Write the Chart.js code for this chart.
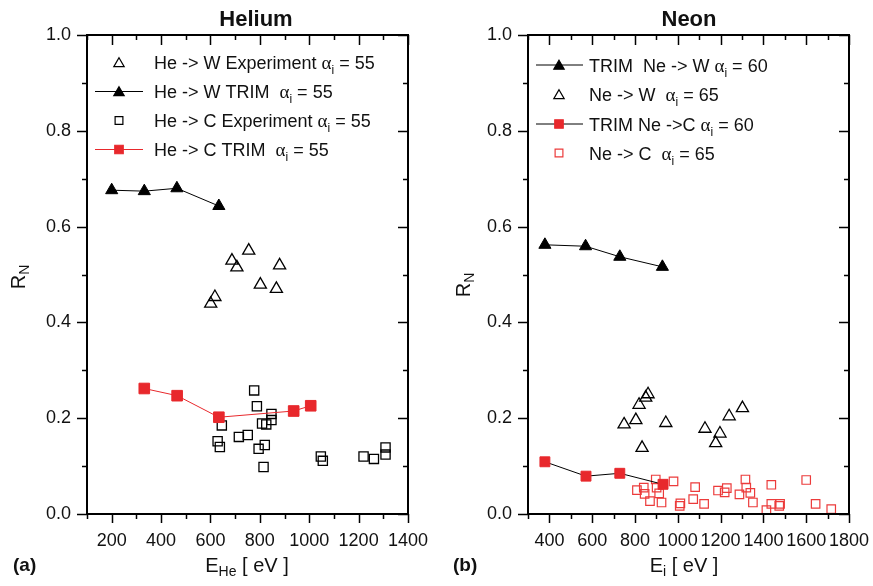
<!DOCTYPE html>
<html>
<head>
<meta charset="utf-8">
<script src="https://cdn.jsdelivr.net/npm/chart.js"></script>
<style>
  body { margin: 0; background: #fff; width: 873px; height: 586px; overflow: hidden; }
  .panel { position: absolute; top: 0; height: 586px; }
  #pa { left: 0; width: 436px; }
  #pb { left: 436px; width: 437px; }
</style>
</head>
<body>
<div class="panel" id="pa"><canvas id="cHe"></canvas></div>
<div class="panel" id="pb"><canvas id="cNe"></canvas></div>
<script>
// axes
const heTicksX = [200, 400, 600, 800, 1000, 1200, 1400];
const neTicksX = [400, 600, 800, 1000, 1200, 1400, 1600, 1800];
const rTicksY = [0, 0.2, 0.4, 0.6, 0.8, 1.0];

// (a) Helium : [E (eV), R_N]
const heW_trim = [[200, 0.676], [332, 0.674], [464, 0.680], [634, 0.643]];
const heW_exp = [[601, 0.439], [618, 0.453], [687, 0.529], [707, 0.515], [755, 0.550],
                 [802, 0.479], [867, 0.470], [880, 0.519]];
const heC_trim = [[332, 0.262], [465, 0.247], [634, 0.202], [937, 0.215], [1006, 0.226]];
const heC_exp = [[646, 0.185], [629, 0.152], [638, 0.140], [715, 0.161], [751, 0.165],
                 [777, 0.258], [788, 0.225], [795, 0.136], [809, 0.189], [826, 0.187],
                 [820, 0.144], [815, 0.098], [847, 0.209], [847, 0.196], [1047, 0.120],
                 [1055, 0.111], [1220, 0.120], [1262, 0.115], [1309, 0.139], [1309, 0.124]];

// (b) Neon
const neW_trim = [[379, 0.562], [569, 0.559], [729, 0.537], [928, 0.516]];
const neW_exp = [[749, 0.187], [804, 0.196], [819, 0.228], [861, 0.250], [850, 0.243],
                 [833, 0.138], [944, 0.190], [1127, 0.178], [1197, 0.168], [1177, 0.148],
                 [1240, 0.204], [1302, 0.221]];
const neC_trim = [[379, 0.109], [571, 0.079], [729, 0.085], [931, 0.062]];
const neC_exp = [[809, 0.050], [841, 0.055], [845, 0.042], [870, 0.027], [897, 0.072],
                 [901, 0.055], [913, 0.043], [924, 0.024], [980, 0.068], [1009, 0.017],
                 [1012, 0.022], [1072, 0.031], [1081, 0.056], [1123, 0.021], [1188, 0.049],
                 [1219, 0.045], [1229, 0.054], [1288, 0.041], [1316, 0.072], [1320, 0.055],
                 [1339, 0.044], [1351, 0.024], [1414, 0.008], [1437, 0.061], [1437, 0.021],
                 [1474, 0.017], [1478, 0.021], [1600, 0.071], [1644, 0.021], [1717, 0.010]];

// legend texts (alpha_i value appended)
const heLegend = ['He -> W Experiment ', 'He -> W TRIM  ', 'He -> C Experiment ', 'He -> C TRIM  '];
const heAlpha = ['55', '55', '55', '55'];
const neLegend = ['TRIM  Ne -> W ', 'Ne -> W  ', 'TRIM Ne ->C ', 'Ne -> C  '];
const neAlpha = ['60', '65', '60', '65'];

const SANS = '"Liberation Sans", Arial, sans-serif';
const SERIF = '"Liberation Serif", serif';
const RED = '#e8282c', RED2 = '#ec3b3b', INK = '#111';

const pts = arr => arr.map(p => ({ x: p[0], y: p[1] }));

function rich(ctx, parts, x, y, align) {
  let w = 0;
  parts.forEach(p => { ctx.font = p[1]; w += ctx.measureText(p[0]).width; });
  let cx = align === 'center' ? x - w / 2 : x;
  parts.forEach(p => {
    ctx.font = p[1];
    ctx.fillText(p[0], cx, y + (p[2] || 0));
    cx += ctx.measureText(p[0]).width;
  });
}

function marker(ctx, kind, x, y, r, fill, stroke, lw) {
  ctx.beginPath();
  if (kind === 'triangle') {
    ctx.moveTo(x, y - r);
    ctx.lineTo(x + r * 0.866, y + r / 2);
    ctx.lineTo(x - r * 0.866, y + r / 2);
    ctx.closePath();
  } else {
    const s = r * Math.SQRT1_2;
    ctx.rect(x - s, y - s, 2 * s, 2 * s);
  }
  if (fill) { ctx.fillStyle = fill; ctx.fill(); }
  ctx.lineWidth = lw; ctx.strokeStyle = stroke; ctx.stroke();
}

// frame, ticks on four sides, titles and legend
const decor = {
  id: 'decor',
  afterDraw(chart) {
    const o = chart.options.plugins.decor;
    const { ctx, chartArea: a, scales: { x, y } } = chart;
    ctx.save();
    ctx.strokeStyle = '#000';
    ctx.lineWidth = 1.5;
    const step = o.xTicks[1] - o.xTicks[0];
    const xm = [];
    o.xTicks.forEach(v => { xm.push([v, 1]); xm.push([v - step / 2, 0]); });
    xm.forEach(([v, major]) => {
      if (v < x.min || v > x.max) return;
      const px = Math.round(x.getPixelForValue(v)) + 0.5;
      const out = major ? 9 : 5, inn = major ? 10 : 5;
      ctx.beginPath();
      ctx.moveTo(px, a.bottom); ctx.lineTo(px, a.bottom + out);
      ctx.moveTo(px, a.top); ctx.lineTo(px, a.top + inn);
      ctx.stroke();
    });
    for (let i = 0; i <= 10; i++) {
      const major = i % 2 === 0;
      const py = Math.round(y.getPixelForValue(i / 10)) + 0.5;
      const out = major ? 10 : 5, inn = major ? 10 : 5;
      ctx.beginPath();
      ctx.moveTo(a.left, py); ctx.lineTo(a.left - out, py);
      ctx.moveTo(a.right, py); ctx.lineTo(a.right - inn, py);
      ctx.stroke();
    }
    ctx.lineWidth = 2;
    ctx.strokeRect(a.left, a.top, a.right - a.left, a.bottom - a.top);

    ctx.fillStyle = INK;
    ctx.textBaseline = 'alphabetic';
    ctx.textAlign = 'left';
    // panel title
    rich(ctx, [[o.title, 'bold 22px ' + SANS]], o.titleX, 26, 'center');
    // x title
    rich(ctx, [['E', '20px ' + SANS], [o.xSub, '14px ' + SANS, 4], [' [ eV ]', '20px ' + SANS]], o.xTitleX, 572, 'center');
    // y title
    ctx.save();
    ctx.translate(o.yTitleX, o.yTitleY);
    ctx.rotate(-Math.PI / 2);
    rich(ctx, [['R', '20px ' + SANS], ['N', '14px ' + SANS, 4]], 0, 0, 'center');
    ctx.restore();
    // panel letter
    rich(ctx, [[o.letter, 'bold 19px ' + SANS]], o.letterX, 571, 'left');

    // legend
    o.legend.forEach((it, i) => {
      const by = o.legBase[i], my = by - 6.5;
      if (it.line) {
        ctx.strokeStyle = it.line; ctx.lineWidth = 1;
        ctx.beginPath(); ctx.moveTo(o.legLine[0], my); ctx.lineTo(o.legLine[1], my); ctx.stroke();
      }
      marker(ctx, it.kind, o.legMark, my + (it.kind === 'triangle' ? 1.2 : 0), it.r, it.fill, it.stroke, 1.2);
      ctx.fillStyle = INK;
      rich(ctx, [[it.text, '18px ' + SANS], ['\u03b1', '19px ' + SERIF], ['i', '12px ' + SANS, 5],
                 [' = ' + it.alpha, '18px ' + SANS]], o.legText, by, 'left');
    });
    ctx.restore();
  }
};

function noPad(s) { s.paddingLeft = 0; s.paddingRight = 0; s.paddingTop = 0; s.paddingBottom = 0; }

function axes(xmin, xmax, xTicks, yWidth) {
  return {
    x: {
      type: 'linear', min: xmin, max: xmax,
      afterBuildTicks: s => { s.ticks = xTicks.map(v => ({ value: v })); },
      afterFit: s => { s.height = 72; noPad(s); },
      ticks: { font: { family: SANS, size: 18 }, color: INK, padding: 16, maxRotation: 0, autoSkip: false,
               callback: v => String(v) },
      grid: { display: false, drawTicks: false },
      border: { display: false }
    },
    y: {
      type: 'linear', min: 0, max: 1,
      afterBuildTicks: s => { s.ticks = rTicksY.map(v => ({ value: v })); },
      afterFit: s => { s.width = yWidth; noPad(s); },
      ticks: { font: { family: SANS, size: 18 }, color: INK, padding: 16, callback: v => v.toFixed(1) },
      grid: { display: false, drawTicks: false },
      border: { display: false }
    }
  };
}

function trim(data, line, fill, kind, r) {
  return { data: pts(data), showLine: true, borderColor: line, borderWidth: 1,
           pointStyle: kind, pointRadius: r, pointBackgroundColor: fill, pointBorderColor: fill,
           pointBorderWidth: 1 };
}
function open(data, col, kind, r, lw) {
  return { data: pts(data), showLine: false, pointStyle: kind, pointRadius: r,
           pointBackgroundColor: 'rgba(0,0,0,0)', pointBorderColor: col, pointBorderWidth: lw };
}

const common = {
  animation: false, responsive: true, maintainAspectRatio: false,
  events: []
};

new Chart(document.getElementById('cHe'), {
  type: 'scatter',
  data: {
    datasets: [
      trim(heW_trim, '#000', '#000', 'triangle', 7),
      open(heW_exp, '#000', 'triangle', 7, 1.3),
      trim(heC_trim, RED, RED, 'rect', 7.5),
      open(heC_exp, '#000', 'rect', 6.5, 1.3)
    ]
  },
  options: Object.assign({}, common, {
    layout: { padding: { top: 35, right: 28, left: 0, bottom: 0 } },
    scales: axes(100, 1400, heTicksX, 87),
    plugins: {
      legend: { display: false }, tooltip: { enabled: false },
      decor: {
        xTicks: heTicksX, title: 'Helium', titleX: 256, xSub: 'He', xTitleX: 247,
        yTitleX: 25, yTitleY: 277, letter: '(a)', letterX: 13,
        legBase: [69, 98, 127, 156], legLine: [95, 143], legMark: 119, legText: 154,
        legend: [
          { text: heLegend[0], alpha: heAlpha[0], kind: 'triangle', r: 6, fill: null, stroke: '#000' },
          { text: heLegend[1], alpha: heAlpha[1], kind: 'triangle', r: 6, fill: '#000', stroke: '#000', line: '#000' },
          { text: heLegend[2], alpha: heAlpha[2], kind: 'rect', r: 5.5, fill: null, stroke: '#000' },
          { text: heLegend[3], alpha: heAlpha[3], kind: 'rect', r: 6, fill: RED, stroke: RED, line: RED }
        ]
      }
    }
  }),
  plugins: [decor]
});

new Chart(document.getElementById('cNe'), {
  type: 'scatter',
  data: {
    datasets: [
      trim(neW_trim, '#000', '#000', 'triangle', 7),
      open(neW_exp, '#000', 'triangle', 7, 1.3),
      trim(neC_trim, '#000', RED, 'rect', 7),
      open(neC_exp, RED2, 'rect', 6, 1.2)
    ]
  },
  options: Object.assign({}, common, {
    layout: { padding: { top: 35, right: 24, left: 0, bottom: 0 } },
    scales: axes(300, 1800, neTicksX, 92),
    plugins: {
      legend: { display: false }, tooltip: { enabled: false },
      decor: {
        xTicks: neTicksX, title: 'Neon', titleX: 253, xSub: 'i', xTitleX: 248,
        yTitleX: 34, yTitleY: 285, letter: '(b)', letterX: 17,
        legBase: [71.5, 101, 130.5, 159.5], legLine: [100, 147], legMark: 123, legText: 153,
        legend: [
          { text: neLegend[0], alpha: neAlpha[0], kind: 'triangle', r: 6, fill: '#000', stroke: '#000', line: '#000' },
          { text: neLegend[1], alpha: neAlpha[1], kind: 'triangle', r: 6, fill: null, stroke: '#000' },
          { text: neLegend[2], alpha: neAlpha[2], kind: 'rect', r: 6, fill: RED, stroke: RED, line: '#000' },
          { text: neLegend[3], alpha: neAlpha[3], kind: 'rect', r: 5.5, fill: null, stroke: RED2 }
        ]
      }
    }
  }),
  plugins: [decor]
});
</script>
</body>
</html>
